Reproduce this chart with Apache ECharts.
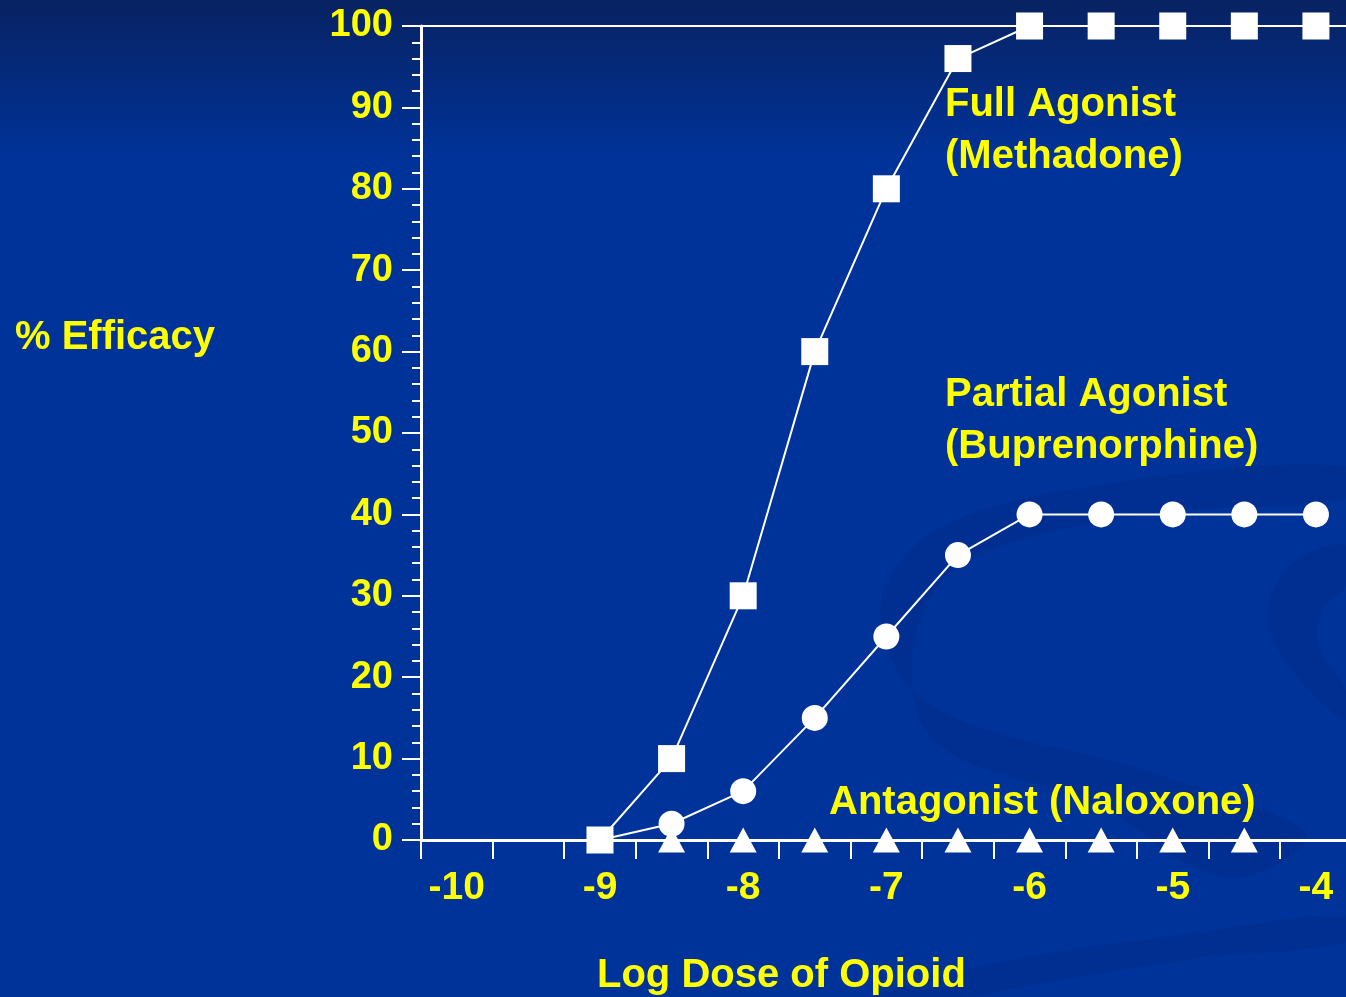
<!DOCTYPE html>
<html>
<head>
<meta charset="utf-8">
<script src="https://cdn.jsdelivr.net/npm/echarts@6/dist/echarts.min.js"></script>
<style>
  html, body { margin: 0; padding: 0; }
  #chart { width: 1346px; height: 997px; }
</style>
</head>
<body>
<div id="chart"></div>
<script>
// log dose positions (x) shared by all three curves
const logDose = [-9, -8.5, -8, -7.5, -7, -6.5, -6, -5.5, -5, -4.5, -4];
const fullAgonist = [0, 10, 30, 60, 80, 96, 100, 100, 100, 100, 100];
const partialAgonist = [0, 2, 6, 15, 25, 35, 40, 40, 40, 40, 40];
const antagonistDose = [-9, -8.5, -8, -7.5, -7, -6.5, -6, -5.5, -5, -4.5];
const antagonist = [0, 0, 0, 0, 0, 0, 0, 0, 0, 0];

const xLabelValues = [-10, -9, -8, -7, -6, -5, -4];
const xTickValues = [-10.25, -9.75, -9.25, -8.75, -8.25, -7.75, -7.25, -6.75, -6.25, -5.75, -5.25, -4.75, -4.25];

const yTitle = '% Efficacy';
const xTitle = 'Log Dose of Opioid';
const fullLabel = ['Full Agonist', '(Methadone)'];
const partialLabel = ['Partial Agonist', '(Buprenorphine)'];
const antagonistLabel = 'Antagonist (Naloxone)';

const YELLOW = '#ffff00';
const FONT = '"Liberation Sans", Arial, sans-serif';

const pairs = (xs, ys) => xs.map((x, i) => [x, ys[i]]);

const chart = echarts.init(document.getElementById('chart'));

const textStyle = (text, x, y, size) => ({
  type: 'text',
  x: x,
  y: y,
  style: {
    text: text,
    fill: YELLOW,
    font: `bold ${size}px ${FONT}`,
    verticalAlign: 'middle'
  },
  z: 10
});

// faint background swooshes of the slide template
const swoosh = (points, alpha) => ({
  type: 'polygon',
  shape: { points: points, smooth: 0.35 },
  style: { fill: `rgba(0, 25, 100, ${alpha})` },
  z: -1,
  silent: true
});

const option = {
  backgroundColor: {
    type: 'linear', x: 0, y: 0, x2: 0, y2: 1,
    colorStops: [
      { offset: 0, color: '#082262' },
      { offset: 0.16, color: '#003399' },
      { offset: 1, color: '#003399' }
    ]
  },
  animation: false,
  grid: { left: 421, right: 0, top: 26, bottom: 157 },
  xAxis: [
    {
      type: 'value',
      min: -10.25,
      max: -3.79,
      axisLine: { lineStyle: { color: '#ffffff', width: 3 } },
      axisTick: {
        show: true,
        length: 19,
        customValues: xTickValues,
        lineStyle: { color: '#ffffff', width: 2 }
      },
      axisLabel: {
        customValues: xLabelValues,
        color: YELLOW,
        fontFamily: FONT,
        fontWeight: 'bold',
        fontSize: 39,
        margin: 29
      },
      splitLine: { show: false }
    },
    {
      type: 'value',
      position: 'top',
      min: -10.25,
      max: -3.79,
      axisLine: { show: true, lineStyle: { color: '#ffffff', width: 2 } },
      axisTick: { show: false },
      axisLabel: { show: false },
      splitLine: { show: false }
    }
  ],
  yAxis: {
    type: 'value',
    min: 0,
    max: 100,
    interval: 10,
    axisLine: { show: true, lineStyle: { color: '#ffffff', width: 3 } },
    axisTick: { show: true, length: 19, lineStyle: { color: '#ffffff', width: 2 } },
    minorTick: { show: true, splitNumber: 5, length: 9, lineStyle: { color: '#ffffff', width: 2 } },
    axisLabel: {
      color: YELLOW,
      fontFamily: FONT,
      fontWeight: 'bold',
      fontSize: 38,
      margin: 28
    },
    splitLine: { show: false }
  },
  graphic: [
    swoosh([[1346, 466], [1120, 482], [935, 530], [880, 612], [930, 705], [1150, 772], [1306, 834], [1250, 876], [1196, 868], [1100, 806], [935, 742], [914, 645], [965, 562], [1150, 514], [1346, 498]], 0.14),
    swoosh([[1346, 545], [1290, 565], [1268, 620], [1300, 680], [1346, 720], [1346, 690], [1320, 650], [1322, 610], [1346, 585]], 0.14),
    swoosh([[880, 997], [1000, 962], [1200, 932], [1346, 916], [1346, 942], [1200, 958], [1050, 982], [960, 997]], 0.12),
    textStyle(yTitle, 15, 338, 40),
    textStyle(xTitle, 597, 976, 40),
    textStyle(fullLabel[0], 945, 105, 40),
    textStyle(fullLabel[1], 945, 157, 40),
    textStyle(partialLabel[0], 945, 395, 40),
    textStyle(partialLabel[1], 945, 447, 40),
    textStyle(antagonistLabel, 829, 803, 40)
  ],
  series: [
    {
      name: 'Antagonist (Naloxone)',
      type: 'line',
      data: pairs(antagonistDose, antagonist),
      symbol: 'triangle',
      symbolSize: [27, 25],
      itemStyle: { color: '#ffffff' },
      lineStyle: { color: '#ffffff', width: 2 },
      z: 3
    },
    {
      name: 'Partial Agonist (Buprenorphine)',
      type: 'line',
      data: pairs(logDose, partialAgonist),
      symbol: 'circle',
      symbolSize: 26,
      itemStyle: { color: '#ffffff' },
      lineStyle: { color: '#ffffff', width: 2 },
      z: 4
    },
    {
      name: 'Full Agonist (Methadone)',
      type: 'line',
      data: pairs(logDose, fullAgonist),
      symbol: 'rect',
      symbolSize: 27,
      itemStyle: { color: '#ffffff' },
      lineStyle: { color: '#ffffff', width: 2 },
      z: 5
    }
  ]
};

chart.setOption(option);
</script>
</body>
</html>
